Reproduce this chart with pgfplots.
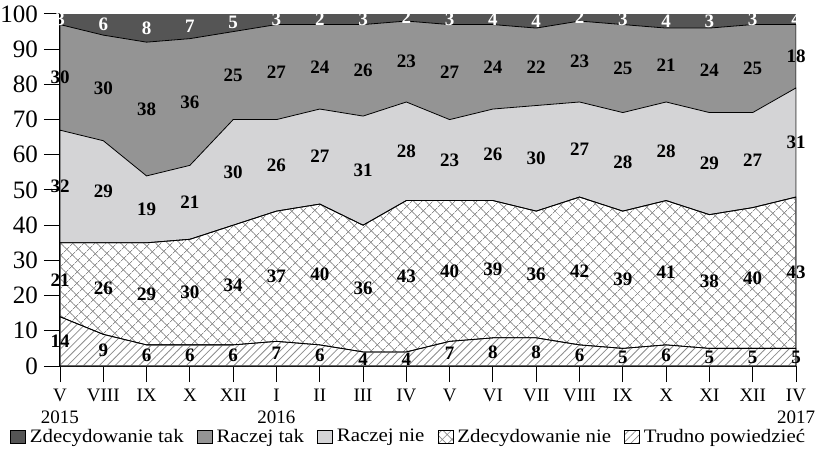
\documentclass[border=0pt]{standalone}
\usepackage{fontspec}
\setmainfont{Liberation Serif}
\newfontfamily\legfont{Liberation Serif}[FakeStretch=1.1]
\usepackage{pgfplots}
\pgfplotsset{compat=1.18}
\usepackage{pgfplotstable}
\usetikzlibrary{patterns.meta}
\definecolor{ztcol}{HTML}{555555}
\definecolor{rtcol}{HTML}{949494}
\definecolor{rncol}{HTML}{D4D4D6}
\definecolor{hatchcol}{HTML}{8C8C8C}

\pgfplotstableread{
x t zn rn rt zt
0 14 21 32 30 3
1 9 26 29 30 6
2 6 29 19 38 8
3 6 30 21 36 7
4 6 34 30 25 5
5 7 37 26 27 3
6 6 40 27 24 2
7 4 36 31 26 3
8 4 43 28 23 2
9 7 40 23 27 3
10 8 39 26 24 4
11 8 36 30 22 4
12 6 42 27 23 2
13 5 39 28 25 3
14 6 41 28 21 4
15 5 38 29 24 3
16 5 40 27 25 3
17 5 43 31 18 4
}\data

\begin{document}
\begin{tikzpicture}
\useasboundingbox (-30pt,-41.5pt) rectangle (382pt,183pt);
\begin{axis}[
  at={(0,0)}, anchor=south west,
  width=368pt, height=176pt, scale only axis,
  xmin=0, xmax=17, ymin=0, ymax=100,
  axis x line=bottom, axis y line=left,
  axis line style={-, line width=0.6pt},
  axis background/.style={fill=ztcol},
  xtick={0,...,17},
  xticklabels={{V\\2015},VIII,IX,X,XII,{I\\2016},II,III,IV,V,VI,VII,VIII,IX,X,XI,XII,{IV\\2017}},
  xticklabel style={align=center, font=\fontsize{9.5}{11}\selectfont},
  ytick={0,10,...,100},
  yticklabel style={font=\fontsize{12.5}{13}\selectfont, xshift=0.5pt},
  tick align=outside,
  major tick length=8pt,
  tick style={black, line width=0.5pt},
  /pgf/number format/assume math mode=true,
  clip mode=individual,
  legend columns=5,
  legend style={at={(0.475,0)}, anchor=center, yshift=-35.5pt, draw=none, fill=none,
    font=\legfont\fontsize{9.5}{11}\selectfont,
    /tikz/every even column/.append style={column sep=4.5pt}},
  every node near coord/.style={font=\bfseries\fontsize{9.5}{10}\selectfont, anchor=center, inner sep=0pt},
]
% areas (cumulative, drawn top layer first)
\addplot[forget plot, fill=rtcol, draw=black, line width=0.4pt]
  table[x=x, y expr=\thisrow{t}+\thisrow{zn}+\thisrow{rn}+\thisrow{rt}] {\data} \closedcycle;
\addplot[forget plot, fill=rncol, draw=black, line width=0.4pt]
  table[x=x, y expr=\thisrow{t}+\thisrow{zn}+\thisrow{rn}] {\data} \closedcycle;
\addplot[forget plot, fill=white, draw=black, line width=0.4pt, pattern color=hatchcol,
  postaction={pattern={Hatch[angle=45,distance=4pt,line width=0.4pt]}, pattern color=hatchcol}]
  table[x=x, y expr=\thisrow{t}+\thisrow{zn}] {\data} \closedcycle;
\addplot[forget plot, fill=white, draw=black, line width=0.4pt, pattern color=hatchcol,
  postaction={pattern={Lines[angle=45,distance=2.8pt,line width=0.4pt]}, pattern color=hatchcol}]
  table[x=x, y=t] {\data} \closedcycle;
% value labels
\addplot[forget plot, draw=none, mark=none, nodes near coords, point meta=explicit]
  table[x=x, y expr=\thisrow{t}/2, meta=t] {\data};
\addplot[forget plot, draw=none, mark=none, nodes near coords, point meta=explicit]
  table[x=x, y expr=\thisrow{t}+\thisrow{zn}/2, meta=zn] {\data};
\addplot[forget plot, draw=none, mark=none, nodes near coords, point meta=explicit]
  table[x=x, y expr=\thisrow{t}+\thisrow{zn}+\thisrow{rn}/2, meta=rn] {\data};
\addplot[forget plot, draw=none, mark=none, nodes near coords, point meta=explicit]
  table[x=x, y expr=\thisrow{t}+\thisrow{zn}+\thisrow{rn}+\thisrow{rt}/2, meta=rt] {\data};
\addplot[forget plot, draw=none, mark=none, nodes near coords, point meta=explicit,
  every node near coord/.append style={text=white}]
  table[x=x, y expr=(100+\thisrow{t}+\thisrow{zn}+\thisrow{rn}+\thisrow{rt})/2, meta=zt] {\data};
% legend
\addlegendimage{legend image code/.code={\draw[fill=ztcol, line width=0.4pt] (0pt,-3.25pt) rectangle (7.5pt,3.25pt);}}
\addlegendimage{legend image code/.code={\draw[fill=rtcol, line width=0.4pt] (0pt,-3.25pt) rectangle (7.5pt,3.25pt);}}
\addlegendimage{legend image code/.code={\draw[fill=rncol, line width=0.4pt] (0pt,-3.25pt) rectangle (7.5pt,3.25pt);}}
\addlegendimage{legend image code/.code={\draw[fill=white, line width=0.4pt] (0pt,-3.25pt) rectangle (7.5pt,3.25pt);
  \fill[pattern={Hatch[angle=45,distance=3.4pt,line width=0.35pt]}, pattern color=hatchcol] (0pt,-3.25pt) rectangle (7.5pt,3.25pt);
  \draw[line width=0.4pt] (0pt,-3.25pt) rectangle (7.5pt,3.25pt);}}
\addlegendimage{legend image code/.code={\draw[fill=white, line width=0.4pt] (0pt,-3.25pt) rectangle (7.5pt,3.25pt);
  \fill[pattern={Lines[angle=45,distance=2.6pt,line width=0.35pt]}, pattern color=hatchcol] (0pt,-3.25pt) rectangle (7.5pt,3.25pt);
  \draw[line width=0.4pt] (0pt,-3.25pt) rectangle (7.5pt,3.25pt);}}
\legend{Zdecydowanie tak, Raczej tak, Raczej nie, Zdecydowanie nie, Trudno powiedzieć}
\end{axis}
\end{tikzpicture}
\end{document}
